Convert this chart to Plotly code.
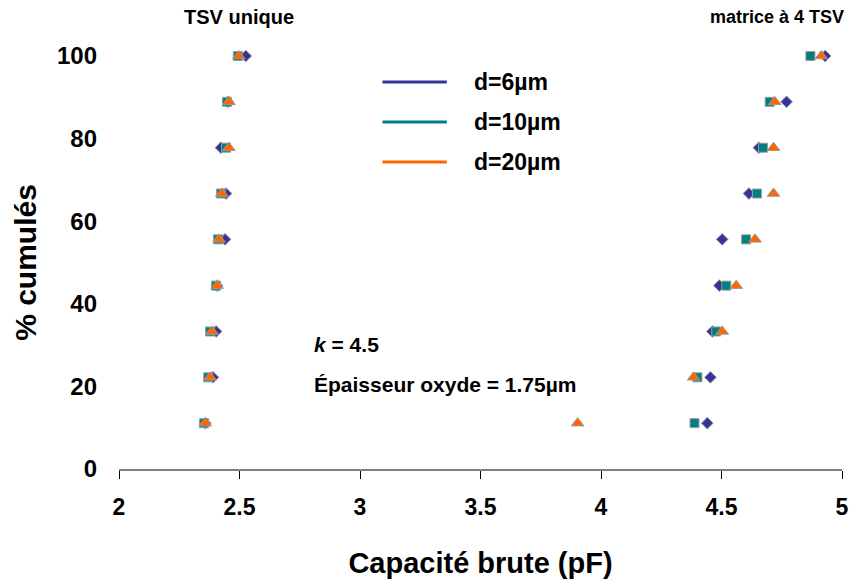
import plotly.graph_objects as go

# Cumulative percentages (9 samples)
pct = [11.1, 22.2, 33.3, 44.4, 55.6, 66.7, 77.8, 88.9, 100.0]

# Single TSV ("TSV unique") raw capacitance (pF)
single_d6 = [2.358, 2.390, 2.403, 2.407, 2.440, 2.444, 2.423, 2.452, 2.526]
single_d10 = [2.353, 2.370, 2.378, 2.403, 2.411, 2.423, 2.444, 2.448, 2.493]
single_d20 = [2.358, 2.378, 2.386, 2.407, 2.415, 2.427, 2.456, 2.456, 2.497]

# 4-TSV matrix ("matrice à 4 TSV") raw capacitance (pF)
matrix_d6 = [4.441, 4.454, 4.462, 4.491, 4.503, 4.614, 4.655, 4.770, 4.930]
matrix_d10 = [4.388, 4.400, 4.478, 4.520, 4.602, 4.647, 4.672, 4.700, 4.869]
matrix_d20 = [3.903, 4.384, 4.503, 4.561, 4.639, 4.716, 4.716, 4.721, 4.914]

series_names = ["d=6µm", "d=10µm", "d=20µm"]
series_colors = ["#333399", "#008080", "#FF6600"]
series_symbols = ["diamond", "square", "triangle-up"]
series_sizes = [9, 9, 11]

x_ticks = [2, 2.5, 3, 3.5, 4, 4.5, 5]
x_tick_labels = ["2", "2.5", "3", "3.5", "4", "4.5", "5"]
y_ticks = [0, 20, 40, 60, 80, 100]

FONT = "Arial, Liberation Sans, sans-serif"
L, R, T, B = 119, 7, 56, 115
PW, PH = 856 - L - R, 584 - T - B


def px_to_paper_x(px):
    return (px - L) / PW


def px_to_paper_y(py):
    return (584 - B - py) / PH


fig = go.Figure()
data_sets = [(single_d6, matrix_d6), (single_d10, matrix_d10), (single_d20, matrix_d20)]
for (s, m), name, col, sym, sz in zip(data_sets, series_names, series_colors, series_symbols, series_sizes):
    fig.add_trace(go.Scatter(
        x=s + m, y=pct + pct, mode="markers", name=name, showlegend=False,
        marker=dict(symbol=sym, size=sz, color=col, line=dict(color="#9a9a9a", width=1)),
        cliponaxis=False,
    ))

# Manual legend (lines + bold labels)
leg_py = [82, 122, 162]
for name, col, py in zip(series_names, series_colors, leg_py):
    ly = px_to_paper_y(py)
    fig.add_shape(type="line", xref="paper", yref="paper",
                  x0=px_to_paper_x(385), x1=px_to_paper_x(450), y0=ly, y1=ly,
                  line=dict(color=col, width=3))
    fig.add_annotation(xref="paper", yref="paper", x=px_to_paper_x(475), y=ly,
                       text="<b>" + name + "</b>", showarrow=False, xanchor="left",
                       yanchor="middle", font=dict(family=FONT, size=23, color="black"))

# Panel titles
fig.add_annotation(xref="paper", yref="paper", x=px_to_paper_x(240), y=px_to_paper_y(17),
                   text="<b>TSV unique</b>", showarrow=False, xanchor="center",
                   yanchor="middle", font=dict(family=FONT, size=20, color="black"))
fig.add_annotation(xref="paper", yref="paper", x=px_to_paper_x(853), y=px_to_paper_y(17),
                   text="<b>matrice à 4 TSV</b>", showarrow=False, xanchor="right",
                   yanchor="middle", font=dict(family=FONT, size=18, color="black"))

# Parameters text
fig.add_annotation(xref="paper", yref="paper", x=px_to_paper_x(314), y=px_to_paper_y(344),
                   text="<b><i>k</i> = 4.5</b>", showarrow=False, xanchor="left",
                   yanchor="middle", font=dict(family=FONT, size=21, color="black"))
fig.add_annotation(xref="paper", yref="paper", x=px_to_paper_x(314), y=px_to_paper_y(384),
                   text="<b>Épaisseur oxyde = 1.75µm</b>", showarrow=False, xanchor="left",
                   yanchor="middle", font=dict(family=FONT, size=21, color="black"))

fig.update_layout(
    width=856, height=584,
    margin=dict(l=L, r=R, t=T, b=B),
    paper_bgcolor="white", plot_bgcolor="white",
    font=dict(family=FONT, color="black"),
    xaxis=dict(
        range=[2, 5], tickvals=x_ticks, ticktext=["<b>" + t + "</b>" for t in x_tick_labels],
        tickfont=dict(family=FONT, size=23, color="black"),
        showgrid=False, zeroline=False,
        showline=True, linecolor="#808080", linewidth=2,
        ticks="outside", ticklen=8, tickcolor="black", tickwidth=1,
        ticklabelstandoff=8,
        title=dict(text="<b>Capacité brute (pF)</b>", font=dict(family=FONT, size=29, color="black"),
                   standoff=34),
    ),
    yaxis=dict(
        range=[0, 100], tickvals=y_ticks, ticktext=["<b>%d</b>" % v for v in y_ticks],
        tickfont=dict(family=FONT, size=24, color="black"),
        showgrid=False, zeroline=False, showline=False, ticks="", ticklabelstandoff=21,
        title=dict(text="<b>% cumulés</b>", font=dict(family=FONT, size=30, color="black"),
                   standoff=11),
    ),
)

fig.write_html("out.html", config={"displayModeBar": False},
               post_script="document.body.style.margin='0px';document.body.style.overflow='hidden';")
